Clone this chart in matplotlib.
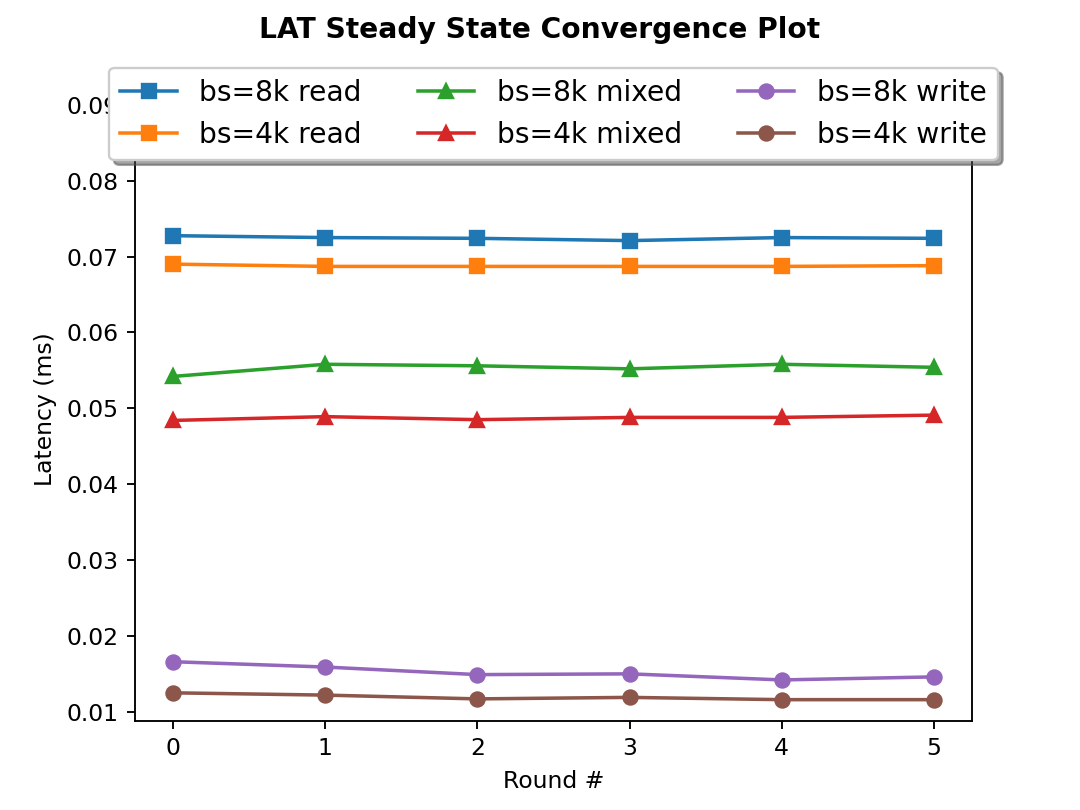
import matplotlib
matplotlib.use("Agg")
import matplotlib.pyplot as plt

rounds = [0, 1, 2, 3, 4, 5]
read_8k = [0.07275, 0.0725, 0.0724, 0.0721, 0.0725, 0.0724]
read_4k = [0.0690, 0.0687, 0.0687, 0.0687, 0.0687, 0.0688]
mixed_8k = [0.0542, 0.0558, 0.0556, 0.0552, 0.0558, 0.0554]
mixed_4k = [0.0484, 0.0489, 0.0485, 0.0488, 0.0488, 0.0491]
write_8k = [0.0166, 0.0159, 0.0149, 0.0150, 0.0142, 0.0146]
write_4k = [0.0125, 0.0122, 0.0117, 0.0119, 0.0116, 0.0116]

series = [
    ("bs=8k read", read_8k, "s", "#1f77b4"),
    ("bs=4k read", read_4k, "s", "#ff7f0e"),
    ("bs=8k mixed", mixed_8k, "^", "#2ca02c"),
    ("bs=4k mixed", mixed_4k, "^", "#d62728"),
    ("bs=8k write", write_8k, "o", "#9467bd"),
    ("bs=4k write", write_4k, "o", "#8c564b"),
]

fig = plt.figure(figsize=(6.4, 4.8), dpi=168.75)
ax = fig.add_subplot(111)
for label, vals, m, c in series:
    ax.plot(rounds, vals, marker=m, color=c, label=label)

ax.set_ylim(0.0088, 0.091)
ax.set_xticks(rounds)
ax.set_xlabel("Round #")
ax.set_ylabel("Latency (ms)")
fig.suptitle("LAT Steady State Convergence Plot", fontweight="bold", fontsize=12)
ax.legend(loc="upper center", bbox_to_anchor=(0.5, 1.07), ncol=3,
          fancybox=True, shadow=True, fontsize=12)
fig.savefig("out.png")
